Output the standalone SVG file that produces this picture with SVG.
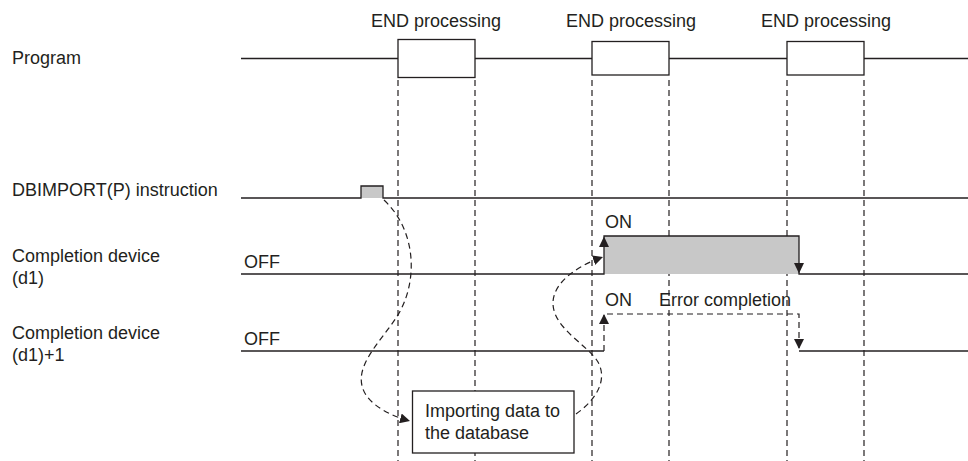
<svg xmlns="http://www.w3.org/2000/svg" width="968" height="461" viewBox="0 0 968 461">
<defs>
<style>
text{font-family:"Liberation Sans",Arial,sans-serif;font-size:18px;fill:#231f20}
.ln{stroke:#231f20;stroke-width:1.3;fill:none}
.dl{stroke:#231f20;stroke-width:1.2;fill:none;stroke-dasharray:6,4}
.box{stroke:#231f20;stroke-width:1.3;fill:#fff}
.fill{fill:#c8c8c8}
</style>
<marker id="ah" viewBox="0 0 10 10" refX="10" refY="5" markerWidth="10" markerHeight="10" markerUnits="userSpaceOnUse" orient="auto">
<path d="M0,0 L10,5 L0,10 Z" fill="#231f20"/>
</marker>
</defs>
<rect width="968" height="461" fill="#fff"/>

<g id="labels">
<text x="12" y="64">Program</text>
<text x="12" y="196">DBIMPORT(P) instruction</text>
<text x="12" y="262">Completion device</text>
<text x="12" y="284">(d1)</text>
<text x="12" y="339">Completion device</text>
<text x="12" y="361">(d1)+1</text>
<text x="244" y="268">OFF</text>
<text x="244" y="345">OFF</text>
</g>

<g id="guides">
<line class="dl" x1="398" y1="80" x2="398" y2="461"/>
<line class="dl" x1="475" y1="80" x2="475" y2="461"/>
<line class="dl" x1="592" y1="80" x2="592" y2="461"/>
<line class="dl" x1="669" y1="80" x2="669" y2="461"/>
<line class="dl" x1="787" y1="80" x2="787" y2="461"/>
<line class="dl" x1="864" y1="80" x2="864" y2="461"/>
</g>

<g id="program">
<path class="ln" d="M241,58.5 H968"/>
<rect class="box" x="398" y="39.5" width="77" height="38"/>
<rect class="box" x="592" y="41.5" width="77" height="33.5"/>
<rect class="box" x="787" y="41.5" width="77" height="33.5"/>
<text x="436" y="27" text-anchor="middle">END processing</text>
<text x="631" y="27" text-anchor="middle">END processing</text>
<text x="826" y="27" text-anchor="middle">END processing</text>
</g>

<g id="dbimport">
<rect class="fill" x="361" y="186" width="22" height="12"/>
<path class="ln" d="M241,198 H361 V186 H383 V198 H968"/>
</g>

<g id="d1">
<rect class="fill" x="604" y="236" width="195" height="38"/>
<path class="ln" d="M241,274 H604 V236 H799 V274 H968"/>
<text x="605" y="228">ON</text>
</g>

<g id="d1plus1">
<path class="ln" d="M241,351 H604"/>
<path class="ln" d="M799,351 H968"/>
<path class="dl" d="M604,351 V314 H799 V351"/>
<text x="605" y="306">ON</text>
<text x="659" y="306">Error completion</text>
</g>

<g id="importing">
<rect class="box" x="412.5" y="391" width="161.5" height="62"/>
<text x="425" y="417">Importing data to</text>
<text x="425" y="439">the database</text>
</g>

<g id="connectors">
<path class="dl" d="M384,200 C418,232 418,285 396,318 C378,345 350,370 366,395 C375,408 392,416 410,421" marker-end="url(#ah)"/>
<path class="dl" d="M576,414 C596,400 608,380 598,362 C588,345 552,328 553,302 C554,280 582,264 603,257" marker-end="url(#ah)"/>
<path d="M604,236.5 L599,247 L609,247 Z" fill="#231f20"/>
<path d="M799,273.5 L794,263 L804,263 Z" fill="#231f20"/>
<path d="M604,314 L599,324 L609,324 Z" fill="#231f20"/>
<path d="M799,349 L794,339 L804,339 Z" fill="#231f20"/>
</g>
</svg>
